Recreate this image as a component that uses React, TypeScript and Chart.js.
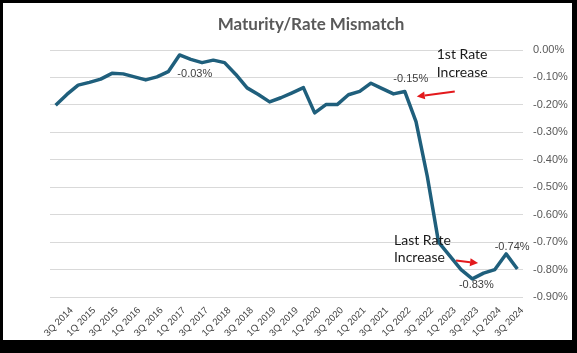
import React, { useEffect, useRef } from 'react';
import { Chart, registerables } from 'chart.js';

Chart.register(...registerables);

// ---- Data ----
const categories = [
  '3Q 2014', '4Q 2014',
  '1Q 2015', '2Q 2015', '3Q 2015', '4Q 2015',
  '1Q 2016', '2Q 2016', '3Q 2016', '4Q 2016',
  '1Q 2017', '2Q 2017', '3Q 2017', '4Q 2017',
  '1Q 2018', '2Q 2018', '3Q 2018', '4Q 2018',
  '1Q 2019', '2Q 2019', '3Q 2019', '4Q 2019',
  '1Q 2020', '2Q 2020', '3Q 2020', '4Q 2020',
  '1Q 2021', '2Q 2021', '3Q 2021', '4Q 2021',
  '1Q 2022', '2Q 2022', '3Q 2022', '4Q 2022',
  '1Q 2023', '2Q 2023', '3Q 2023', '4Q 2023',
  '1Q 2024', '2Q 2024', '3Q 2024', '4Q 2024',
];

// values in percent
const mismatch = [
  -0.201, -0.162, -0.128, -0.118, -0.106, -0.085, -0.087, -0.098, -0.109, -0.098,
  -0.079, -0.018, -0.034, -0.046, -0.037, -0.046, -0.089, -0.138, -0.162, -0.189,
  -0.174, -0.156, -0.137, -0.229, -0.199, -0.199, -0.163, -0.151, -0.121, -0.141,
  -0.160, -0.151, -0.261, -0.460, -0.700, -0.750, -0.800, -0.834, -0.813, -0.800,
  -0.743, -0.798,
];

const yTicks = [0, -0.1, -0.2, -0.3, -0.4, -0.5, -0.6, -0.7, -0.8, -0.9];

// indices of points that carry a data label
const labelIdx = [12, 31, 37, 40];

// annotation texts
const noteTexts = [
  ['1st Rate', 'Increase'],
  ['Last Rate', 'Increase'],
];
const noteAnchors = [31, 36];

// ---- Styles ----
const LINE_COLOR = '#1f5f7c';
const ARROW_COLOR = '#e3191c';
const labelDx = [4, 6, 4, 6];
const labelDy = [15, -12, 6, -7];
const noteStyle = [
  { textDx: 32, textDy: [-32, -14], from: [50, 0], to: [12, 5] },
  { textDx: -67, textDy: [-25, -8], from: [-5, -9], to: [17, -6.5] },
];

function drawArrow(ctx: CanvasRenderingContext2D, x1: number, y1: number, x2: number, y2: number) {
  const ang = Math.atan2(y2 - y1, x2 - x1);
  const headLen = 8;
  const headW = 4;
  const bx = x2 - headLen * Math.cos(ang);
  const by = y2 - headLen * Math.sin(ang);
  ctx.save();
  ctx.strokeStyle = ARROW_COLOR;
  ctx.fillStyle = ARROW_COLOR;
  ctx.lineWidth = 2;
  ctx.beginPath();
  ctx.moveTo(x1, y1);
  ctx.lineTo(bx, by);
  ctx.stroke();
  ctx.beginPath();
  ctx.moveTo(x2, y2);
  ctx.lineTo(bx + headW * Math.sin(ang), by - headW * Math.cos(ang));
  ctx.lineTo(bx - headW * Math.sin(ang), by + headW * Math.cos(ang));
  ctx.closePath();
  ctx.fill();
  ctx.restore();
}

const annotationPlugin = {
  id: 'annot',
  afterDatasetsDraw(chart: any) {
    const ctx: CanvasRenderingContext2D = chart.ctx;
    const meta = chart.getDatasetMeta(0);
    ctx.save();
    // data labels
    ctx.font = '11px "Liberation Sans", Arial, sans-serif';
    ctx.fillStyle = '#404040';
    ctx.textAlign = 'center';
    ctx.textBaseline = 'middle';
    labelIdx.forEach((idx, k) => {
      const el = meta.data[idx];
      const txt = mismatch[idx].toFixed(2) + '%';
      ctx.fillText(txt, el.x + labelDx[k], el.y + labelDy[k]);
    });
    // notes
    ctx.font = '14px Lato, "Noto Sans", sans-serif';
    ctx.fillStyle = '#1a1a1a';
    ctx.textAlign = 'left';
    ctx.textBaseline = 'alphabetic';
    noteTexts.forEach((lines, k) => {
      const el = meta.data[noteAnchors[k]];
      const st = noteStyle[k];
      lines.forEach((ln, j) => {
        ctx.fillText(ln, el.x + st.textDx, el.y + st.textDy[j]);
      });
      drawArrow(ctx, el.x + st.from[0], el.y + st.from[1], el.x + st.to[0], el.y + st.to[1]);
    });
    ctx.restore();
  },
};

export default function App() {
  const ref = useRef<HTMLCanvasElement | null>(null);

  useEffect(() => {
    if (!ref.current) return;
    const chart = new Chart(ref.current, {
      type: 'line',
      data: {
        labels: categories,
        datasets: [
          {
            data: mismatch,
            borderColor: LINE_COLOR,
            borderWidth: 3.5,
            pointRadius: 0,
            tension: 0,
            fill: false,
            borderJoinStyle: 'round',
          },
        ],
      },
      options: {
        animation: false,
        responsive: false,
        maintainAspectRatio: false,
        layout: { padding: { left: 47, right: 0, top: 0, bottom: 0 } },
        plugins: {
          legend: { display: false },
          tooltip: { enabled: false },
          title: {
            display: true,
            text: 'Maturity/Rate Mismatch',
            color: '#595959',
            font: { family: 'Lato', size: 17, weight: 'bold' },
            padding: { top: 11, bottom: 15.6 },
          },
        },
        scales: {
          x: {
            type: 'category',
            offset: true,
            grid: { display: false, drawTicks: false },
            border: { display: false },
            ticks: {
              autoSkip: false,
              minRotation: 45,
              maxRotation: 45,
              padding: 8,
              labelOffset: 16,
              color: '#404040',
              font: { family: 'Liberation Sans', size: 9.5 },
              callback: (_v: any, i: number) => (i % 2 === 0 ? categories[i] : ''),
            },
            afterFit: (s: any) => {
              s.height = 43;
            },
          },
          y: {
            position: 'right',
            min: yTicks[yTicks.length - 1],
            max: yTicks[0],
            grid: { color: '#d9d9d9', drawTicks: false, lineWidth: 1 },
            border: { display: false },
            afterBuildTicks: (s: any) => {
              s.ticks = yTicks.map((v) => ({ value: v }));
            },
            ticks: {
              padding: 10,
              color: '#595959',
              font: { family: 'Liberation Sans', size: 11 },
              callback: (v: any) => Number(v).toFixed(2) + '%',
            },
            afterFit: (s: any) => {
              s.width = 49;
            },
          },
        },
      },
      plugins: [annotationPlugin],
    } as any);
    return () => chart.destroy();
  }, []);

  return (
    <div
      style={{
        position: 'fixed',
        left: 0,
        top: 0,
        width: 577,
        height: 353,
        background: '#000',
      }}
    >
      <div
        style={{
          position: 'absolute',
          left: 3,
          top: 3,
          width: 569,
          height: 337,
          background: '#fff',
        }}
      >
        <canvas ref={ref} width={569} height={337} style={{ display: 'block' }} />
      </div>
    </div>
  );
}
